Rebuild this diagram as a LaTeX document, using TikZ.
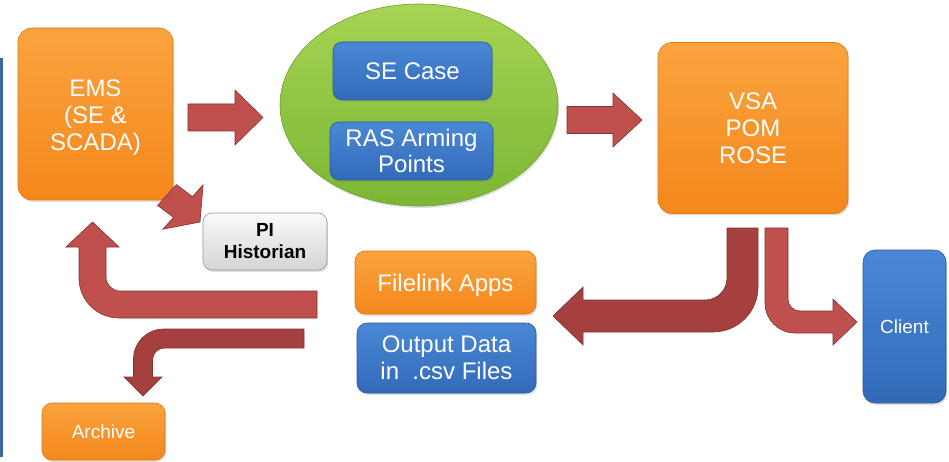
\documentclass[tikz,border=0pt]{standalone}
\usepackage{fontspec}
\setmainfont{Liberation Sans}
\usetikzlibrary{shapes.geometric,shadows}
\definecolor{orangetop}{RGB}{250,163,62}
\definecolor{orangebot}{RGB}{244,136,28}
\definecolor{orangeline}{RGB}{222,120,20}
\definecolor{greentop}{RGB}{166,212,84}
\definecolor{greenbot}{RGB}{124,182,52}
\definecolor{greenline}{RGB}{112,160,50}
\definecolor{bluetop}{RGB}{74,136,214}
\definecolor{bluebot}{RGB}{50,106,184}
\definecolor{blueline}{RGB}{44,90,150}
\definecolor{graytop}{RGB}{250,250,250}
\definecolor{graybot}{RGB}{212,212,212}
\definecolor{grayline}{RGB}{150,150,150}
\definecolor{arrowred}{RGB}{192,80,77}
\definecolor{arrowdark}{RGB}{165,64,62}
\definecolor{arrowline}{RGB}{130,50,48}
\definecolor{edgeblue}{RGB}{60,105,165}
\begin{document}
\begin{tikzpicture}[x=1pt,y=-1pt,
  shade/.style={drop shadow={opacity=0.25,shadow xshift=1.2pt,shadow yshift=-2pt}},
  orangebox/.style={shade,rectangle,rounded corners=14pt,draw=orangeline,line width=0.6pt,
    top color=orangetop,bottom color=orangebot,text=white,align=center,inner sep=0pt},
  bluebox/.style={shade,rectangle,rounded corners=9pt,draw=blueline,line width=0.6pt,
    top color=bluetop,bottom color=bluebot,text=white,align=center,inner sep=0pt},
  graybox/.style={shade,rectangle,rounded corners=9pt,draw=grayline,line width=0.6pt,
    top color=graytop,bottom color=graybot,text=black,align=center,inner sep=0pt},
  redarrow/.style={fill=arrowred,draw=arrowline,line width=0.6pt,line join=miter},
  darkarrow/.style={fill=arrowdark,draw=arrowline,line width=0.6pt,line join=miter},
  bigtext/.style={font=\fontsize{24}{27}\selectfont},
  smalltext/.style={font=\fontsize{19}{22}\selectfont}
]
\useasboundingbox (0,0) rectangle (949,462);
\fill[white] (0,0) rectangle (949,462);
% left edge bar
\fill[edgeblue] (0,58) rectangle (3,457);

% nodes
\node[orangebox,minimum width=155pt,minimum height=172pt] (ems) at (95.5,114) {};
\node[text=white,align=center,bigtext,inner sep=0pt] (emslbl) at (95.5,118) {EMS\\(SE \&\\SCADA)};
\node[shade,ellipse,draw=greenline,line width=0.6pt,top color=greentop,bottom color=greenbot,
  minimum width=278pt,minimum height=202pt,inner sep=0pt] (se) at (419,105) {};
\node[bluebox,bigtext,minimum width=159pt,minimum height=58pt] (secase) at (412.5,71) {SE Case};
\node[bluebox,font=\fontsize{24}{26}\selectfont,minimum width=163pt,minimum height=58pt] (ras) at (411.5,151) {RAS Arming\\Points};
\node[orangebox,bigtext,minimum width=190pt,minimum height=171pt] (vsa) at (753,128) {VSA\\POM\\ROSE};
\node[graybox,font=\fontsize{19}{22}\selectfont\bfseries,minimum width=124pt,minimum height=57pt] (pi) at (265,241.5) {PI\\Historian};
\node[orangebox,minimum width=181pt,minimum height=63pt,rounded corners=10pt] (filelink) at (445.5,282.5) {};
\node[text=white,bigtext,inner sep=0pt] (filelinklbl) at (445.5,285) {Filelink Apps};
\node[bluebox,bigtext,rounded corners=10pt,minimum width=179pt,minimum height=70pt] (output) at (446.5,358) {Output Data\\in\ \ .csv Files};
\node[bluebox,smalltext,rounded corners=12pt,minimum width=83pt,minimum height=153pt] (client) at (904.5,326.5) {Client};
\node[orangebox,smalltext,rounded corners=10pt,minimum width=123pt,minimum height=57pt] (archive) at (103.5,431.5) {Archive};

% EMS -> SE
\draw[redarrow] (188,104) -- (235,104) -- (235,90) -- (263,117.5) -- (235,145) -- (235,131) -- (188,131) -- cycle;
% SE -> VSA
\draw[redarrow] (567,106.5) -- (613,106.5) -- (613,93) -- (642,120) -- (613,147) -- (613,133.5) -- (567,133.5) -- cycle;
% EMS -> PI
\draw[redarrow] (157.6,205.4) -- (173.6,217.4) -- (162.9,229.2) -- (200,222) -- (203.1,184.8) -- (192.4,196.6) -- (176.4,184.6) -- cycle;
% return to EMS
\draw[redarrow] (317,291) -- (120,291) .. controls (112.3,291) and (106,284.7) .. (106,277)
  -- (106,247) -- (119,247) -- (92.5,222) -- (66,247) -- (79,247) -- (79,278)
  .. controls (79,300.1) and (96.9,318) .. (119,318) -- (317,318) -- cycle;
% to archive
\draw[darkarrow] (304,329) -- (163.5,329) .. controls (146.9,329) and (133.5,342.4) .. (133.5,359)
  -- (133.5,377) -- (124,377) -- (143,396) -- (162,377) -- (152.5,377) -- (152.5,360)
  .. controls (152.5,353.4) and (157.9,348) .. (164.5,348) -- (304,348) -- cycle;
% VSA -> filelink
\draw[darkarrow] (727,228) -- (758,228) -- (758,287) .. controls (758,311.9) and (737.9,332) .. (713,332)
  -- (583,332) -- (583,345) -- (553,316) -- (583,287) -- (583,300) -- (705,300)
  .. controls (717.2,300) and (727,290.2) .. (727,278) -- cycle;
% VSA -> client
\draw[redarrow] (765,228) -- (788,228) -- (788,299) .. controls (788,305.6) and (793.4,311) .. (800,311)
  -- (833,311) -- (833,299) -- (857,322) -- (833,345) -- (833,333) -- (795,333)
  .. controls (778.4,333) and (765,319.6) .. (765,303) -- cycle;
\end{tikzpicture}
\end{document}
